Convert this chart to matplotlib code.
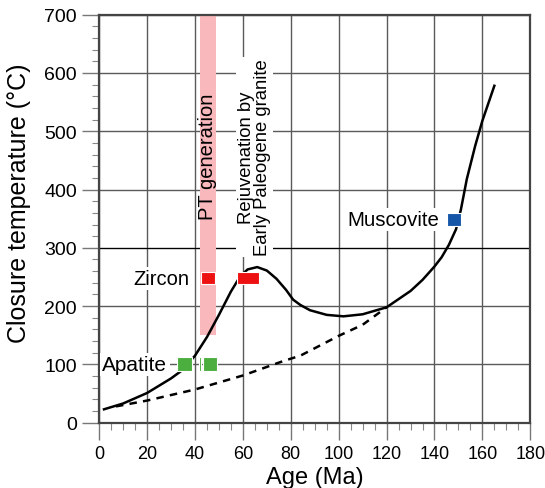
import numpy as np
import matplotlib
matplotlib.use("Agg")
import matplotlib.pyplot as plt
import matplotlib.ticker as mticker
from matplotlib.patches import Rectangle

plt.rcParams['font.family'] = ['Liberation Sans', 'DejaVu Sans']

# closure temperature path (solid) and normal cooling path (dashed)
path_age = [2, 10, 20, 30, 35, 40, 45, 50, 55, 59, 62, 66, 70, 74, 78, 81, 84, 88, 95, 102,
            110, 120, 130, 135, 140, 143, 146, 149, 151, 153.5, 157, 160, 165]
path_temp = [23, 33, 51, 76, 91, 115, 147, 185, 225, 252, 263, 267, 261, 247, 228, 211, 202,
             193, 185, 182.5, 186, 198, 226, 245, 268, 284, 305, 332, 365, 418, 475, 518, 578]
cool_age = [7, 20, 40, 60, 77, 84, 100, 110, 120]
cool_temp = [28, 38, 57, 81, 106, 115, 149, 168, 198]

# boxes: (age_min, age_max, temp_min, temp_max)
zircon_boxes = [(42.5, 48.3, 238, 259), (57.6, 66.8, 238, 259)]
apatite_boxes = [(32.6, 38.6, 89, 112), (41.8, 42.6, 89, 112), (43.4, 49.3, 89, 112)]
muscovite_boxes = [(145.4, 151.1, 337, 359)]

# PT generation band
band_age = (42.0, 48.7)
band_temp = (150, 700)

fig = plt.figure(figsize=(5.45, 4.89), dpi=100)
ax = fig.add_axes([0.182, 0.1335, 0.791, 0.8345])

ax.set_xlim(0, 180)
ax.set_ylim(0, 700)
ax.xaxis.set_major_locator(mticker.MultipleLocator(20))
ax.xaxis.set_minor_locator(mticker.MultipleLocator(5))
ax.yaxis.set_major_locator(mticker.MultipleLocator(100))
ax.yaxis.set_minor_locator(mticker.MultipleLocator(20))
ax.grid(True, which='major', color='#5a5a5a', lw=1.0, zorder=0.5)
ax.set_axisbelow(True)
ax.axhline(300, color='black', lw=0.8, zorder=0.6)

for s in ax.spines.values():
    s.set_color('#444444')
    s.set_linewidth(1.6)
ax.tick_params(which='major', direction='out', length=12, width=1.0, color='#777777', pad=4)
ax.tick_params(axis='x', which='major', labelsize=13)
ax.tick_params(axis='y', which='major', labelsize=14)
ax.tick_params(which='minor', direction='out', length=5, width=0.8, color='#888888')

ax.add_patch(Rectangle((band_age[0], band_temp[0]), band_age[1] - band_age[0],
                       band_temp[1] - band_temp[0], facecolor='#f9b8bc', edgecolor='none', zorder=1))

ax.plot(path_age, path_temp, color='black', lw=1.8, zorder=2)
ax.plot(cool_age, cool_temp, color='black', lw=1.8, ls=(0, (3, 2.5)), zorder=2)

for boxes, col in [(zircon_boxes, '#ee1111'), (apatite_boxes, '#4cae3e'), (muscovite_boxes, '#1656a8')]:
    for a0, a1, t0, t1 in boxes:
        ax.add_patch(Rectangle((a0, t0), a1 - a0, t1 - t0, facecolor=col,
                               edgecolor='white', lw=0.8, zorder=3))

wb = dict(facecolor='white', edgecolor='none', pad=1.5)
ax.text(45.3, 457, 'PT generation', rotation=90, ha='center', va='center', fontsize=14.5, zorder=4)
ax.text(64.8, 287, 'Rejuvenation by\nEarly Paleogene granite', rotation=90, ha='center',
        va='bottom', fontsize=13.3, linespacing=0.95, bbox=wb, zorder=4)
ax.text(37.6, 248, 'Zircon', ha='right', va='center', fontsize=14.5, bbox=wb, zorder=4)
ax.text(28.5, 100, 'Apatite', ha='right', va='center', fontsize=15, bbox=wb, zorder=4)
ax.text(142, 348, 'Muscovite', ha='right', va='center', fontsize=14.7, bbox=wb, zorder=4)

ax.set_xlabel('Age (Ma)', fontsize=17, labelpad=3)
ax.set_ylabel('Closure temperature (\u00b0C)', fontsize=18)
ax.yaxis.set_label_coords(-0.158, 0.54)

fig.savefig('out.png', dpi=100)
